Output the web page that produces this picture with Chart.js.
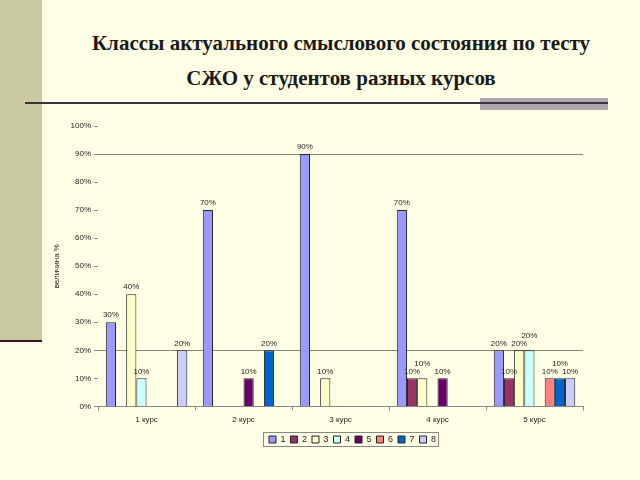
<!DOCTYPE html>
<html>
<head>
<meta charset="utf-8">
<script src="https://cdn.jsdelivr.net/npm/chart.js@4/dist/chart.umd.min.js"></script>
<style>
  html, body { margin: 0; padding: 0; }
  body { width: 640px; height: 480px; background: #ffffe5; position: relative; overflow: hidden; }
  #strip { position: absolute; left: 0; top: 0; width: 42px; height: 340px; background: #c9c99f; }
  #strip-line { position: absolute; left: 0; top: 340px; width: 42px; height: 2px; background: #3d1030; }
  #gray-bar { position: absolute; left: 480px; top: 98px; width: 128px; height: 12px; background: #ada8ad; }
  #rule { position: absolute; left: 25px; top: 102px; width: 583px; height: 2px; background: #3a3040; }
  h1 { position: absolute; left: 42px; right: 0; top: 26px; margin: 0; text-align: center;
       font-family: "Liberation Serif", Tinos, "Times New Roman", "DejaVu Serif", serif;
       font-weight: bold; font-size: 21px; line-height: 35px; color: #1a1a1a; }
  #wrap { position: absolute; left: 0; top: 0; width: 640px; height: 480px; }
</style>
</head>
<body>
<div id="strip"></div>
<div id="strip-line"></div>
<div id="gray-bar"></div>
<div id="rule"></div>
<h1>Классы актуального смыслового состояния по тесту<br>СЖО у студентов разных курсов</h1>
<div id="wrap"><canvas id="chart" width="640" height="480"></canvas></div>
<script>
const courses = ['1 курс', '2 курс', '3 курс', '4 курс', '5 курс'];
const seriesNames = ['1', '2', '3', '4', '5', '6', '7', '8'];
// percent of students in each class, one array per class
const class1 = [30, 70, 90, 70, 20];
const class2 = [0, 0, 0, 10, 10];
const class3 = [40, 0, 10, 10, 20];
const class4 = [10, 0, 0, 0, 20];
const class5 = [0, 10, 0, 10, 0];
const class6 = [0, 0, 0, 0, 10];
const class7 = [0, 20, 0, 0, 10];
const class8 = [20, 0, 0, 0, 10];
const yTicks = [0, 10, 20, 30, 40, 50, 60, 70, 80, 90, 100];

const values = [class1, class2, class3, class4, class5, class6, class7, class8];
const colors = ['#9999ff', '#993366', '#ffffcc', '#ccffff', '#660066', '#ff8080', '#0066cc', '#ccccff'];
const FONT = '"Liberation Sans", Arial, sans-serif';

// write the value above each bar, skip the empty ones
// if a label would sit on the one before it, push it up a bit
const barLabels = {
  id: 'barLabels',
  afterDatasetsDraw(chart) {
    const ctx = chart.ctx;
    ctx.save();
    ctx.font = '8px ' + FONT;
    ctx.fillStyle = '#222';
    ctx.textAlign = 'center';
    ctx.textBaseline = 'bottom';
    chart.data.labels.forEach((_, j) => {
      let prev = null;
      chart.data.datasets.forEach((ds, i) => {
        if (!ds.data[j]) return;
        const bar = chart.getDatasetMeta(i).data[j];
        const w = ctx.measureText(ds.data[j] + '%').width;
        let y = bar.y - 3;
        if (prev && Math.abs(prev.y - y) < 8 && bar.x - w / 2 < prev.right) y = prev.y - 8;
        ctx.fillText(ds.data[j] + '%', bar.x, y);
        prev = { y, right: bar.x + w / 2 };
      });
    });
    ctx.restore();
  }
};

// move the legend a little to the right and put a thin frame round it
const LEGEND_SHIFT = 38;
const legendFrame = {
  id: 'legendFrame',
  afterUpdate(chart) {
    const lg = chart.legend;
    lg.left += LEGEND_SHIFT;
    lg.right += LEGEND_SHIFT;
    lg.legendHitBoxes.forEach(h => { h.left += LEGEND_SHIFT; });
  },
  afterDraw(chart) {
    const lg = chart.legend;
    if (!lg || !lg.legendItems.length) return;
    const hits = lg.legendHitBoxes;
    const x0 = Math.min(...hits.map(h => h.left)) - 6;
    const x1 = Math.max(...hits.map(h => h.left + h.width)) + 2;
    const y0 = Math.min(...hits.map(h => h.top)) - 3;
    const y1 = Math.max(...hits.map(h => h.top + h.height)) + 2;
    const ctx = chart.ctx;
    ctx.save();
    ctx.strokeStyle = '#888';
    ctx.lineWidth = 1;
    ctx.strokeRect(Math.round(x0) + 0.5, Math.round(y0) + 0.5, Math.round(x1 - x0), Math.round(y1 - y0));
    ctx.restore();
  }
};

const config = {
  type: 'bar',
  data: {
    labels: courses,
    datasets: values.map((v, i) => ({
      label: seriesNames[i],
      data: v,
      backgroundColor: colors[i],
      borderColor: '#222',
      borderWidth: 1,
      categoryPercentage: 0.84,
      barPercentage: 1
    }))
  },
  options: {
    responsive: false,
    animation: false,
    layout: { padding: { left: 46, right: 57, top: 126, bottom: 26 } },
    plugins: {
      legend: {
        position: 'bottom',
        labels: {
          boxWidth: 7, boxHeight: 7, padding: 5,
          font: { size: 9, family: FONT },
          color: '#222'
        }
      },
      tooltip: { enabled: false }
    },
    scales: {
      x: {
        grid: { offset: true, drawOnChartArea: false, tickLength: 4, color: '#888' },
        border: { color: '#888' },
        ticks: { font: { size: 8, family: FONT }, color: '#222', padding: 5 }
      },
      y: {
        min: 0, max: 100,
        afterBuildTicks: axis => { axis.ticks = yTicks.map(v => ({ value: v })); },
        grid: {
          color: c => (c.tick && (c.tick.value === 20 || c.tick.value === 90)) ? '#8a8a6c' : 'transparent',
          tickColor: '#888', tickLength: 4
        },
        border: { display: false },
        ticks: {
          callback: v => v + '%',
          font: { size: 8, family: FONT }, color: '#222', padding: 3
        },
        title: {
          display: true, text: 'величина %',
          font: { size: 8, family: FONT }, color: '#222', padding: 6
        }
      }
    }
  },
  plugins: [barLabels, legendFrame]
};

new Chart(document.getElementById('chart').getContext('2d'), config);
</script>
</body>
</html>
